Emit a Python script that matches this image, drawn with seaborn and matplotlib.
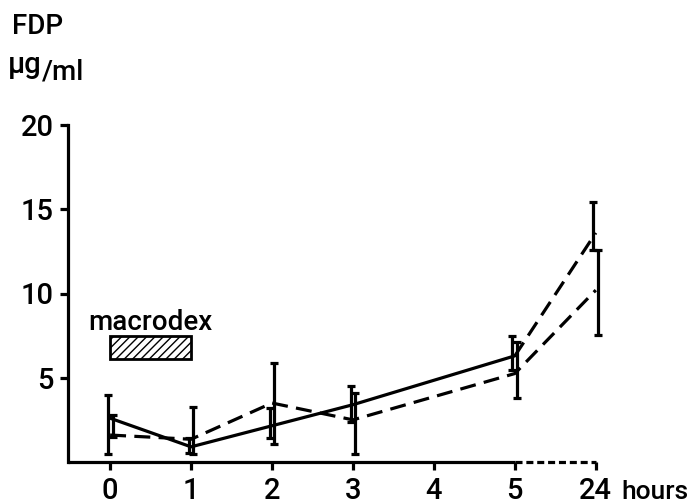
import matplotlib
matplotlib.use("Agg")
import matplotlib.pyplot as plt
from matplotlib.patches import Rectangle
import seaborn as sns
import pandas as pd
import numpy as np

# ---- data ----
tick_labels = ["0", "1", "2", "3", "4", "5", "24"]
time_pos = [0, 1, 2, 3, 5, 6]          # positions of 0,1,2,3,5,24 h on the axis
# series A (solid line 0-5 h, dashed continuation 5-24 h)
a_mean = [2.6, 0.9, 2.15, 3.4, 6.3, 13.6]
a_low = [0.5, 0.55, 1.4, 2.4, 5.45, 12.6]
a_high = [4.0, 1.4, 3.2, 4.5, 7.45, 15.45]
# series B (dashed line)
b_mean = [1.6, 1.35, 3.5, 2.5, 5.25, 10.2]
b_low = [1.5, 0.5, 1.05, 0.45, 3.8, 7.55]
b_high = [2.8, 3.25, 5.9, 4.1, 7.15, 12.6]
macrodex_span = (0, 1)       # hours
macrodex_level = (6.1, 7.5)  # box extent on y

sns.set_theme(style="white")
plt.rcParams["font.family"] = ["Roboto", "DejaVu Sans"]
plt.rcParams["font.weight"] = "medium"
plt.rcParams["text.color"] = "black"

FS = 21

fig = plt.figure(figsize=(6.93, 5.04), dpi=100)
ax = fig.add_axes([68 / 693, 1 - 462 / 504, (612 - 68) / 693, (462 - 125) / 504])

lw = 2.3
dash = (5, 2.6)

dfA = pd.DataFrame({"t": time_pos, "v": a_mean})
dfB = pd.DataFrame({"t": time_pos, "v": b_mean})

sns.lineplot(data=dfA[dfA.t <= 5], x="t", y="v", ax=ax, color="black", lw=lw)
sns.lineplot(data=dfA[dfA.t >= 5], x="t", y="v", ax=ax, color="black", lw=lw)
ax.lines[-1].set_dashes(dash)
sns.lineplot(data=dfB, x="t", y="v", ax=ax, color="black", lw=lw)
ax.lines[-1].set_dashes(dash)

off = 0.03
xa = np.array(time_pos) - off
xb = np.array(time_pos) + off
ax.errorbar(xa, a_mean,
            yerr=[np.array(a_mean) - np.array(a_low), np.array(a_high) - np.array(a_mean)],
            fmt="none", ecolor="black", elinewidth=lw, capsize=3.2, capthick=lw, clip_on=False)
ax.errorbar(xb, b_mean,
            yerr=[np.array(b_mean) - np.array(b_low), np.array(b_high) - np.array(b_mean)],
            fmt="none", ecolor="black", elinewidth=lw, capsize=3.2, capthick=lw, clip_on=False)

# macrodex box
ax.add_patch(Rectangle((macrodex_span[0], macrodex_level[0]),
                       macrodex_span[1] - macrodex_span[0],
                       macrodex_level[1] - macrodex_level[0],
                       facecolor="white", edgecolor="black", lw=2, hatch="////"))
ax.text(0.5, 8.3, "macrodex", ha="center", va="center", fontsize=FS - 1, color="black")

ax.set_xlim(-0.52, 6.2)
ax.set_ylim(0, 20)
ax.set_xticks(range(7))
ax.set_xticklabels(tick_labels)
ax.set_yticks([5, 10, 15, 20])
ax.set_yticklabels(["5", "10", "15", "20"])
ax.set_xlabel("")
ax.set_ylabel("")

for s in ["top", "right", "bottom"]:
    ax.spines[s].set_visible(False)
ax.spines["left"].set_linewidth(lw)
ax.spines["left"].set_color("black")

# x axis line: solid up to 5, dashed 5 -> 24
ax.plot([-0.52, 5], [0, 0], color="black", lw=lw, clip_on=False, solid_capstyle="butt")
ax.plot([5, 6], [0, 0], color="black", lw=lw, clip_on=False, dashes=(2.2, 1.2))

ax.tick_params(axis="both", direction="out", length=5.5, width=lw, color="black",
               labelsize=FS, labelcolor="black", bottom=True, left=True)
ax.tick_params(axis="x", pad=5)
ax.tick_params(axis="y", pad=5)

fig.text(12 / 693, 1 - 26 / 504, "FDP", fontsize=FS - 1, va="center", ha="left", color="black")
fig.text(8 / 693, 1 - 65 / 504, "µg", fontsize=FS, va="center", ha="left", color="black")
fig.text(42 / 693, 1 - 72 / 504, "/ml", fontsize=FS - 1, va="center", ha="left", color="black")
fig.text(621 / 693, 1 - 492 / 504, "hours", fontsize=19, va="center", ha="left", color="black")

fig.savefig("out.png", dpi=100, facecolor="white")
